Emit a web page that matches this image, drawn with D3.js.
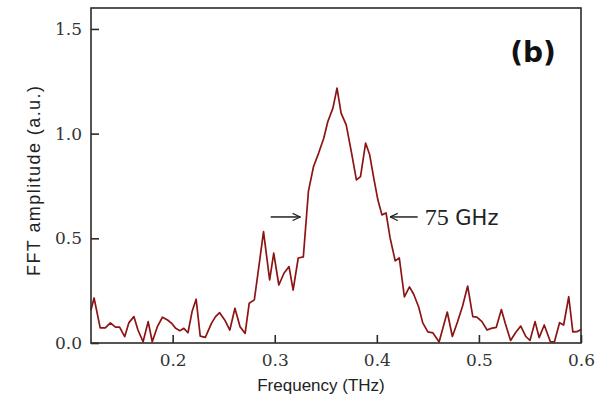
<!DOCTYPE html>
<html>
<head>
<meta charset="utf-8">
<script src="https://cdn.jsdelivr.net/npm/d3@7/dist/d3.min.js"></script>
<style>
  html, body { margin: 0; padding: 0; background: #fff; }
  svg { display: block; }
</style>
</head>
<body>
<svg id="chart" width="597" height="406"></svg>
<script>
// FFT spectrum: frequency (THz) and amplitude (a.u.)
const freq = [
  0.120, 0.123, 0.129, 0.134, 0.139, 0.144, 0.148, 0.153, 0.157, 0.162,
  0.166, 0.171, 0.176, 0.180, 0.185, 0.190, 0.195, 0.199, 0.203, 0.207,
  0.211, 0.215, 0.219, 0.223, 0.227, 0.232, 0.238, 0.242, 0.246, 0.251,
  0.256, 0.261, 0.266, 0.271, 0.275, 0.280, 0.284, 0.289, 0.295, 0.299,
  0.304, 0.309, 0.314, 0.318, 0.323, 0.328, 0.333, 0.338, 0.343, 0.348,
  0.352, 0.357, 0.361, 0.365, 0.370, 0.375, 0.380, 0.384, 0.389, 0.393,
  0.397, 0.401, 0.405, 0.409, 0.413, 0.418, 0.422, 0.427, 0.432, 0.436,
  0.441, 0.445, 0.450, 0.455, 0.461, 0.465, 0.469, 0.474, 0.479, 0.484,
  0.489, 0.494, 0.498, 0.503, 0.508, 0.512, 0.517, 0.522, 0.526, 0.531,
  0.536, 0.541, 0.546, 0.550, 0.555, 0.559, 0.564, 0.570, 0.574, 0.579,
  0.583, 0.588, 0.592, 0.596, 0.600
];
const amplitude = [
  0.158, 0.215, 0.072, 0.072, 0.096, 0.076, 0.076, 0.030, 0.096, 0.126,
  0.062, 0.006, 0.102, 0.006, 0.078, 0.123, 0.110, 0.094, 0.070, 0.059,
  0.070, 0.049, 0.150, 0.209, 0.033, 0.027, 0.094, 0.126, 0.145, 0.110,
  0.062, 0.166, 0.078, 0.046, 0.190, 0.206, 0.349, 0.532, 0.301, 0.429,
  0.277, 0.333, 0.365, 0.253, 0.406, 0.411, 0.725, 0.843, 0.907, 0.978,
  1.058, 1.122, 1.217, 1.098, 1.042, 0.914, 0.779, 0.795, 0.955, 0.899,
  0.787, 0.684, 0.612, 0.621, 0.502, 0.392, 0.406, 0.220, 0.268, 0.234,
  0.172, 0.096, 0.053, 0.048, 0.005, 0.076, 0.148, 0.031, 0.100, 0.177,
  0.272, 0.126, 0.124, 0.102, 0.062, 0.070, 0.075, 0.160, 0.091, 0.012,
  0.050, 0.081, 0.031, 0.012, 0.102, 0.026, 0.086, 0.006, 0.006, 0.097,
  0.086, 0.221, 0.053, 0.054, 0.065
];

// Axis ticks
const xTicks = [0.2, 0.3, 0.4, 0.5, 0.6];
const yTicks = [0.0, 0.5, 1.0, 1.5];

// Linewidth annotation: half-maximum level, edges and arrow tails
const halfLevel = 0.602;
const fwhmEdges = [0.325, 0.413];
const arrowTails = [0.296, 0.440];
const fwhmLabel = { num: "75", unit: " GHz" };
const panelLabel = "(b)";

const svg = d3.select("#chart");
const margin = { left: 91, right: 16, top: 8, bottom: 63 };
const W = 597, H = 406;
const x = d3.scaleLinear().domain([0.12, 0.6]).range([margin.left, W - margin.right]);
const y = d3.scaleLinear().domain([0, 1.6]).range([H - margin.bottom, margin.top]);

const axisColor = "#2b2b2b";
const serif = "'DejaVu Serif', serif";
const sans = "'Liberation Sans', 'DejaVu Sans', sans-serif";

// Spectrum line
svg.append("path")
  .datum(freq.map((f, i) => [f, amplitude[i]]))
  .attr("fill", "none")
  .attr("stroke", "#8c1414")
  .attr("stroke-width", 1.7)
  .attr("stroke-linejoin", "round")
  .attr("d", d3.line().x(d => x(d[0])).y(d => y(d[1])));

// Axes with inward ticks
const gx = svg.append("g")
  .attr("transform", `translate(0,${y(0)})`)
  .call(d3.axisBottom(x).tickValues(xTicks).tickFormat(d3.format(".1f"))
    .tickSizeInner(-8).tickSizeOuter(0).tickPadding(11));
const gy = svg.append("g")
  .attr("transform", `translate(${x(0.12)},0)`)
  .call(d3.axisLeft(y).tickValues(yTicks).tickFormat(d3.format(".1f"))
    .tickSizeInner(-8).tickSizeOuter(0).tickPadding(9));
[gx, gy].forEach(g => {
  g.select(".domain").remove();
  g.selectAll(".tick line").attr("stroke", axisColor).attr("stroke-width", 1.6);
  g.selectAll(".tick text")
    .attr("fill", "#333")
    .style("font-family", serif)
    .style("font-size", "17px");
});

// Frame
svg.append("rect")
  .attr("x", x(0.12)).attr("y", y(1.6))
  .attr("width", x(0.6) - x(0.12)).attr("height", y(0) - y(1.6))
  .attr("fill", "none")
  .attr("stroke", axisColor)
  .attr("stroke-width", 1.6);

// Axis titles
svg.append("text")
  .attr("x", 321).attr("y", 391)
  .attr("text-anchor", "middle")
  .attr("fill", "#222")
  .style("font-family", sans)
  .style("font-size", "17px")
  .text("Frequency (THz)");

svg.append("text")
  .attr("transform", `translate(40,181) rotate(-90)`)
  .attr("text-anchor", "middle")
  .attr("fill", "#222")
  .attr("textLength", 190)
  .attr("lengthAdjust", "spacing")
  .style("font-family", sans)
  .style("font-size", "18px")
  .text("FFT amplitude (a.u.)");

// Arrows marking the linewidth
const defs = svg.append("defs");
defs.append("marker")
  .attr("id", "head")
  .attr("viewBox", "0 0 10 10")
  .attr("refX", 9.5).attr("refY", 5)
  .attr("markerWidth", 9).attr("markerHeight", 9)
  .attr("markerUnits", "userSpaceOnUse")
  .attr("orient", "auto")
  .append("path")
  .attr("d", "M1,1 L9.5,5 L1,9")
  .attr("fill", "none")
  .attr("stroke", "#222")
  .attr("stroke-width", 1.3);

fwhmEdges.forEach((edge, i) => {
  svg.append("line")
    .attr("x1", x(arrowTails[i])).attr("y1", y(halfLevel))
    .attr("x2", x(edge)).attr("y2", y(halfLevel))
    .attr("stroke", "#222")
    .attr("stroke-width", 1.5)
    .attr("marker-end", "url(#head)");
});

const lbl = svg.append("text")
  .attr("x", x(arrowTails[1]) + 7)
  .attr("y", y(halfLevel) + 8)
  .attr("fill", "#222");
lbl.append("tspan")
  .style("font-family", "'Liberation Serif', serif")
  .style("font-size", "24px")
  .text(fwhmLabel.num);
lbl.append("tspan")
  .style("font-family", "'DejaVu Sans', sans-serif")
  .style("font-size", "21px")
  .text(fwhmLabel.unit);

// Panel label
svg.append("text")
  .attr("x", 533).attr("y", 62)
  .attr("text-anchor", "middle")
  .attr("fill", "#111")
  .style("font-family", "'DejaVu Sans', sans-serif")
  .style("font-weight", "bold")
  .style("font-size", "28px")
  .text(panelLabel);
</script>
</body>
</html>
